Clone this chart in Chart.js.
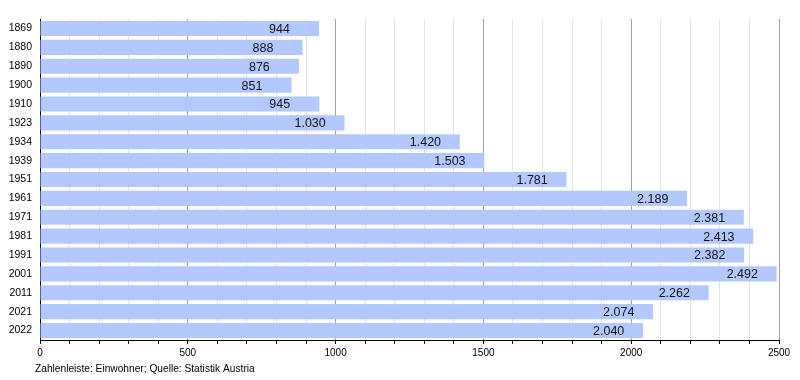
<!DOCTYPE html>
<html lang="de">
<head>
    <meta charset="UTF-8">
    <title>Einwohnerentwicklung</title>
    <script src="https://cdn.jsdelivr.net/npm/chart.js"></script>
    <style>
        body {
            margin: 0;
            background: #fff;
        }
        #wrap {
            width: 800px;
            height: 380px;
        }
    </style>
</head>
<body>
    <div id="wrap"><canvas id="popChart" width="800" height="380"></canvas></div>

    <script>
        const years = ["1869", "1880", "1890", "1900", "1910", "1923", "1934", "1939", "1951",
                       "1961", "1971", "1981", "1991", "2001", "2011", "2021", "2022"];
        const residents = [944, 888, 876, 851, 945, 1030, 1420, 1503, 1781,
                           2189, 2381, 2413, 2382, 2492, 2262, 2074, 2040];
        const footerText = "Zahlenleiste: Einwohner; Quelle: Statistik Austria";

        const FONT = "'Liberation Sans', Arial, sans-serif";

        function formatDe(n) {
            return String(n).replace(/\B(?=(\d{3})+(?!\d))/g, ".");
        }

        // value text sits inside the bar, starting a fixed distance left of its end
        const barLabels = {
            id: "barLabels",
            afterDatasetsDraw(chart) {
                const ctx = chart.ctx;
                const meta = chart.getDatasetMeta(0);
                ctx.save();
                ctx.font = "12.5px " + FONT;
                ctx.fillStyle = "#111";
                ctx.textAlign = "left";
                ctx.textBaseline = "middle";
                meta.data.forEach((bar, i) => {
                    ctx.fillText(formatDe(residents[i]), bar.x - 50, bar.y + 1);
                });
                ctx.restore();
            }
        };

        const footer = {
            id: "footer",
            afterDraw(chart) {
                const ctx = chart.ctx;
                ctx.save();
                ctx.font = "10.2px " + FONT;
                ctx.fillStyle = "#000";
                ctx.textAlign = "left";
                ctx.textBaseline = "middle";
                ctx.fillText(footerText, 35, 369);
                ctx.restore();
            }
        };

        new Chart(document.getElementById("popChart"), {
            type: "bar",
            data: {
                labels: years,
                datasets: [{
                    data: residents,
                    backgroundColor: "rgb(178,200,255)",
                    borderWidth: 0,
                    barPercentage: 0.8,
                    categoryPercentage: 1.0
                }]
            },
            options: {
                indexAxis: "y",
                responsive: false,
                animation: false,
                layout: {
                    padding: { top: 19, right: 21, bottom: 18, left: 0 }
                },
                plugins: {
                    legend: { display: false },
                    tooltip: { enabled: false }
                },
                scales: {
                    x: {
                        min: 0,
                        max: 2500,
                        afterFit(scale) { scale.height = 22; },
                        grid: {
                            color: (c) => (c.tick && c.tick.value % 500 === 0) ? "#a0a0a0" : "#e4e4e4",
                            tickColor: "#000",
                            tickLength: 4,
                            lineWidth: 1
                        },
                        border: { color: "#000", width: 1 },
                        ticks: {
                            stepSize: 100,
                            autoSkip: false,
                            maxRotation: 0,
                            padding: 3,
                            color: "#000",
                            font: { family: FONT, size: 10 },
                            callback: (v) => (v % 500 === 0 ? String(v) : "")
                        }
                    },
                    y: {
                        afterFit(scale) { scale.width = 40; },
                        grid: { display: false, drawTicks: false },
                        border: { color: "#000", width: 1 },
                        ticks: {
                            padding: 8,
                            color: "#000",
                            font: { family: FONT, size: 10.5 }
                        }
                    }
                }
            },
            plugins: [barLabels, footer]
        });
    </script>
</body>
</html>
